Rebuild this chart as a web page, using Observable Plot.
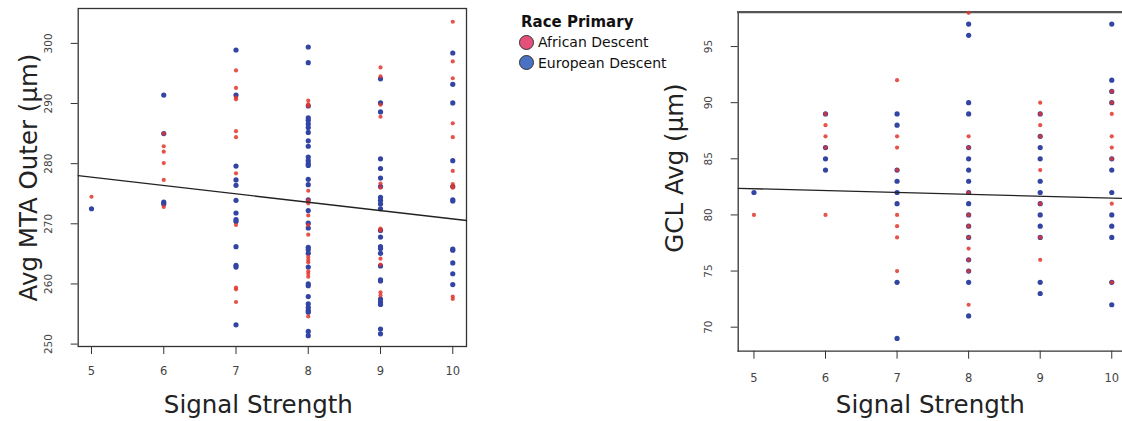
<!DOCTYPE html>
<html>
<head>
<meta charset="utf-8">
<script src="https://cdn.jsdelivr.net/npm/d3@7"></script>
<script src="https://cdn.jsdelivr.net/npm/@observablehq/plot@0.6"></script>
<style>
  html, body { margin: 0; padding: 0; background: #fff; }
  #wrap { position: relative; width: 1122px; height: 421px; overflow: hidden; font-family: "DejaVu Sans", Verdana, sans-serif; }
  #left { position: absolute; left: 0; top: 0; }
  #right { position: absolute; left: 640px; top: 0; }
  #legend { position: absolute; left: 519px; top: 12px; color: #111; }
  #legend .title { font-weight: bold; font-size: 15px; line-height: 20px; margin-left: 2px; }
  #legend .row { font-size: 14px; line-height: 20.5px; display: flex; align-items: center; }
  #legend .sw { width: 13px; height: 13px; border-radius: 50%; border: 1.3px solid #333; margin-right: 4px; }
</style>
</head>
<body>
<div id="wrap">
  <div id="left"></div>
  <div id="legend"></div>
  <div id="right"></div>
</div>
<script>
// ---------- data ----------
const signalTicks = [5, 6, 7, 8, 9, 10];
const mtaTicks = [250, 260, 270, 280, 290, 300];
const gclTicks = [70, 75, 80, 85, 90, 95];

const raceLabels = ["African Descent", "European Descent"];
const raceLegendColors = ["#e5507a", "#4a72c2"];
const raceDotColors = ["#e2352b", "#3345a3"];

// [signal strength, Avg MTA Outer (µm)]
const mtaAfrican = [
  [5, 274.5],
  [6, 285.0], [6, 282.9], [6, 282.0], [6, 280.1], [6, 277.3], [6, 272.8],
  [7, 295.5], [7, 292.6], [7, 291.0], [7, 290.7], [7, 285.4], [7, 284.4], [7, 278.4], [7, 269.8], [7, 259.4], [7, 259.1], [7, 257.0],
  [8, 290.5], [8, 289.9], [8, 289.6], [8, 275.5], [8, 273.9], [8, 273.4], [8, 271.4], [8, 269.8], [8, 268.2], [8, 264.5], [8, 264.0], [8, 263.6], [8, 262.1], [8, 261.7], [8, 261.2], [8, 254.6],
  [9, 296.0], [9, 294.5], [9, 289.8], [9, 287.8], [9, 276.7], [9, 276.0], [9, 269.2], [9, 268.9], [9, 264.2], [9, 263.2], [9, 258.6], [9, 258.1],
  [10, 303.6], [10, 297.0], [10, 294.2], [10, 286.7], [10, 284.4], [10, 278.8], [10, 276.6], [10, 276.2], [10, 276.0], [10, 257.9], [10, 257.5]
];
const mtaEuropean = [
  [5, 272.5],
  [6, 291.4], [6, 285.0], [6, 273.6], [6, 273.3],
  [7, 298.9], [7, 291.4], [7, 279.6], [7, 277.3], [7, 276.4], [7, 273.9], [7, 271.8], [7, 270.7], [7, 270.4], [7, 266.2], [7, 263.1], [7, 262.8], [7, 253.2],
  [8, 299.4], [8, 296.8], [8, 289.6], [8, 287.6], [8, 287.2], [8, 286.6], [8, 286.0], [8, 285.2], [8, 283.8], [8, 282.9], [8, 281.1], [8, 280.5], [8, 280.0], [8, 279.7], [8, 277.4], [8, 276.5], [8, 274.0], [8, 272.2], [8, 270.1], [8, 269.3], [8, 266.1], [8, 265.7], [8, 265.1], [8, 262.8], [8, 260.0], [8, 259.7], [8, 257.9], [8, 256.7], [8, 256.1], [8, 255.6], [8, 255.3], [8, 252.1], [8, 251.4],
  [9, 294.1], [9, 290.1], [9, 288.6], [9, 280.8], [9, 279.2], [9, 277.6], [9, 276.2], [9, 274.4], [9, 273.9], [9, 273.3], [9, 272.5], [9, 268.9], [9, 267.8], [9, 266.2], [9, 265.9], [9, 265.1], [9, 263.0], [9, 260.7], [9, 260.5], [9, 257.5], [9, 257.0], [9, 256.6], [9, 252.5], [9, 251.7],
  [10, 298.4], [10, 293.2], [10, 290.1], [10, 280.5], [10, 276.2], [10, 274.0], [10, 273.8], [10, 265.8], [10, 265.6], [10, 263.5], [10, 261.7], [10, 259.9]
];
// fitted line at the frame edges
const mtaFitSignal = [4.816, 10.19];
const mtaFitValue = [278.0, 270.55];

// [signal strength, GCL Avg (µm)]
const gclAfrican = [
  [5, 80],
  [6, 89], [6, 88], [6, 87], [6, 86], [6, 80],
  [7, 92], [7, 87], [7, 86], [7, 84], [7, 80], [7, 79], [7, 78], [7, 75],
  [8, 98], [8, 87], [8, 86], [8, 82], [8, 80], [8, 79], [8, 78], [8, 77], [8, 76], [8, 75], [8, 72],
  [9, 90], [9, 89], [9, 88], [9, 87], [9, 84], [9, 81], [9, 78], [9, 76],
  [10, 91], [10, 90], [10, 89], [10, 87], [10, 86], [10, 85], [10, 81], [10, 74]
];
const gclEuropean = [
  [5, 82],
  [6, 89], [6, 86], [6, 85], [6, 84],
  [7, 89], [7, 88], [7, 84], [7, 83], [7, 82], [7, 81], [7, 74], [7, 69],
  [8, 97], [8, 96], [8, 90], [8, 89], [8, 86], [8, 85], [8, 84], [8, 83], [8, 82], [8, 81], [8, 80], [8, 79], [8, 78], [8, 76], [8, 75], [8, 74], [8, 71],
  [9, 89], [9, 87], [9, 86], [9, 85], [9, 83], [9, 82], [9, 81], [9, 80], [9, 79], [9, 78], [9, 74], [9, 73],
  [10, 97], [10, 92], [10, 91], [10, 90], [10, 85], [10, 84], [10, 82], [10, 80], [10, 79], [10, 78], [10, 74], [10, 72]
];
const gclFitSignal = [4.78, 10.15];
const gclFitValue = [82.37, 81.48];

// ---------- helpers ----------
const font = '"DejaVu Sans", Verdana, sans-serif';
const fit = (xs, ys) => xs.map((x, i) => ({x, y: ys[i]}));

function panel({width, height, margins, xDomain, yDomain, yTicks, african, european, fitX, fitY,
                yTitle, yTitleDx, yTitleDy, xTitleDx, xTitleDy, tickPad, rightFrame}) {
  const marks = [];
  if (rightFrame) {
    marks.push(Plot.frame({stroke: "#333", strokeWidth: 1.3}));
  } else {
    marks.push(Plot.frame({anchor: "left", stroke: "#333", strokeWidth: 1.3}));
    marks.push(Plot.frame({anchor: "bottom", stroke: "#333", strokeWidth: 1.3}));
    marks.push(Plot.frame({anchor: "top", stroke: "#555", strokeWidth: 2.2}));
  }
  marks.push(
    Plot.axisX({ticks: signalTicks, tickFormat: d => String(d), tickSize: 8, tickPadding: tickPad,
                fontSize: 11.5, label: null, stroke: "#333", fill: "#444"}),
    Plot.axisY({ticks: yTicks, tickSize: 7, tickFormat: () => "", label: null, stroke: "#333"}),
    Plot.text(yTicks, {y: d => d, text: d => String(d), frameAnchor: "left", dx: -30, rotate: -90,
                       textAnchor: "middle", lineAnchor: "middle", fontSize: 10.5, fill: "#444"}),
    Plot.dot(european, {x: d => d[0], y: d => d[1], r: 2.6, fill: raceDotColors[1], stroke: "none"}),
    Plot.dot(african, {x: d => d[0], y: d => d[1], r: 2.1, fill: raceDotColors[0], fillOpacity: 0.85, stroke: "none"}),
    Plot.line(fit(fitX, fitY), {x: "x", y: "y", stroke: "#222", strokeWidth: 1.3}),
    Plot.text([yTitle], {frameAnchor: "left", dx: yTitleDx, dy: yTitleDy, rotate: -90, text: d => d,
                         fontSize: 24.5, fill: "#222", textAnchor: "middle", lineAnchor: "middle"}),
    Plot.text(["Signal Strength"], {frameAnchor: "bottom", dx: xTitleDx, dy: xTitleDy, text: d => d,
                         fontSize: 24.5, fill: "#222", textAnchor: "middle", lineAnchor: "middle"})
  );
  return Plot.plot({
    width, height,
    marginLeft: margins[0], marginRight: margins[1], marginTop: margins[2], marginBottom: margins[3],
    style: {fontFamily: font, background: "transparent", overflow: "visible"},
    x: {domain: xDomain},
    y: {domain: yDomain},
    marks
  });
}

document.getElementById("left").appendChild(panel({
  width: 480, height: 421, margins: [77.7, 14, 8, 75],
  xDomain: [4.816, 10.19], yDomain: [249.6, 305.8], yTicks: mtaTicks,
  african: mtaAfrican, european: mtaEuropean, fitX: mtaFitSignal, fitY: mtaFitValue,
  yTitle: "Avg MTA Outer (µm)", yTitleDx: -49, yTitleDy: 0, xTitleDx: -14, xTitleDy: 59, tickPad: 12,
  rightFrame: true
}));

document.getElementById("right").appendChild(panel({
  width: 482, height: 421, margins: [97.7, 0, 11.7, 70.3],
  xDomain: [4.78, 10.15], yDomain: [67.86, 98.06], yTicks: gclTicks,
  african: gclAfrican, european: gclEuropean, fitX: gclFitSignal, fitY: gclFitValue,
  yTitle: "GCL Avg (µm)", yTitleDx: -62.7, yTitleDy: -13.7, xTitleDx: 0, xTitleDy: 54.3, tickPad: 15,
  rightFrame: false
}));

// legend
const legend = document.getElementById("legend");
const t = document.createElement("div");
t.className = "title"; t.textContent = "Race Primary";
legend.appendChild(t);
raceLabels.forEach((lab, i) => {
  const row = document.createElement("div");
  row.className = "row";
  const sw = document.createElement("span");
  sw.className = "sw"; sw.style.background = raceLegendColors[i];
  const tx = document.createElement("span");
  tx.textContent = lab;
  row.appendChild(sw); row.appendChild(tx);
  legend.appendChild(row);
});
</script>
</body>
</html>
